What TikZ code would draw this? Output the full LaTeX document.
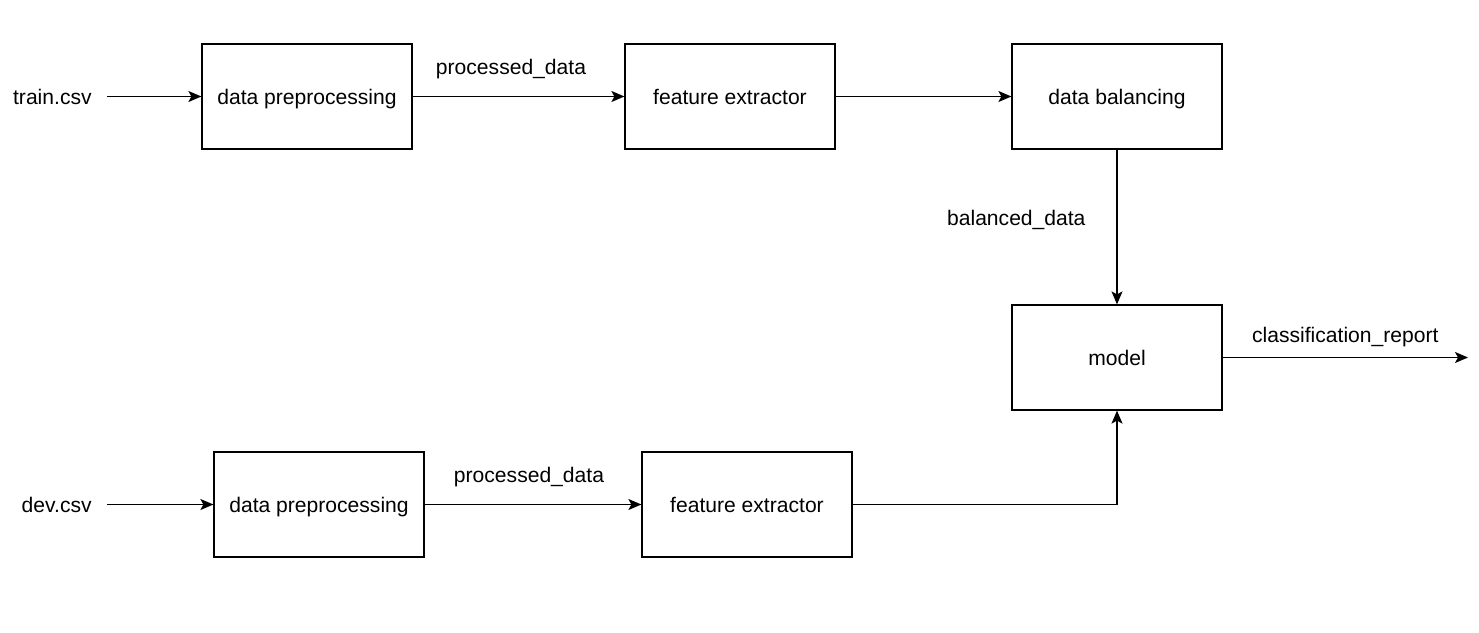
\documentclass[tikz,border=0pt]{standalone}
\usepackage{fontspec}
\setmainfont{Liberation Sans}
\usetikzlibrary{shapes.geometric, arrows.meta}
\tikzstyle{process} = [rectangle, minimum width=4.2cm, minimum height=2.1cm,
                       text centered, draw=black, line width=0.7pt,
                       text height=10.3pt, text depth=0.9pt,
                       font=\fontsize{12}{14}\selectfont]
\tikzstyle{iotext} = [inner xsep=0.3cm, text height=10.3pt, text depth=0.9pt,
                      font=\fontsize{12}{14}\selectfont]
\tikzstyle{edgetext} = [text height=10.3pt, text depth=0.9pt,
                        font=\fontsize{12}{14}\selectfont]
\tikzstyle{arrow} = [line width=0.75pt,-{Stealth[length=0.26cm, width=0.22cm, inset=0.06cm]}]

\begin{document}
\begin{tikzpicture}[node distance=2cm]
        \useasboundingbox (0,0) rectangle (29.58,-12.64);

        % train branch
        \node (TrainFile) [iotext, anchor=east] at (2.14, -1.93) {train.csv};
        \node (TrainPrep) [process] at (6.14, -1.93) {data preprocessing};
        \node (TrainFeat) [process] at (14.6, -1.93) {feature extractor};
        \node (Balance) [process] at (22.34, -1.93) {data balancing};

        % model
        \node (Model) [process] at (22.34, -7.15) {model};
        \coordinate (ReportEnd) at (29.36, -7.15);

        % dev branch
        \node (DevFile) [iotext, anchor=east] at (2.14, -10.09) {dev.csv};
        \node (DevPrep) [process] at (6.38, -10.09) {data preprocessing};
        \node (DevFeat) [process] at (14.94, -10.09) {feature extractor};

        \draw [arrow] (TrainFile) -- (TrainPrep);
        \draw [arrow] (TrainPrep) -- node[edgetext, above=0.28cm, xshift=-0.15cm] {processed\_data} (TrainFeat);
        \draw [arrow] (TrainFeat) -- (Balance);
        \draw [arrow] (Balance) -- node[edgetext, left=0.5cm, pos=0.44] {balanced\_data} (Model);
        \draw [arrow] (Model) -- node[edgetext, above=0.14cm] {classification\_report} (ReportEnd);

        \draw [arrow] (DevFile) -- (DevPrep);
        \draw [arrow] (DevPrep) -- node[edgetext, above=0.28cm, xshift=-0.08cm] {processed\_data} (DevFeat);
        \draw [arrow] (DevFeat) -| (Model);

    \end{tikzpicture}
\end{document}
